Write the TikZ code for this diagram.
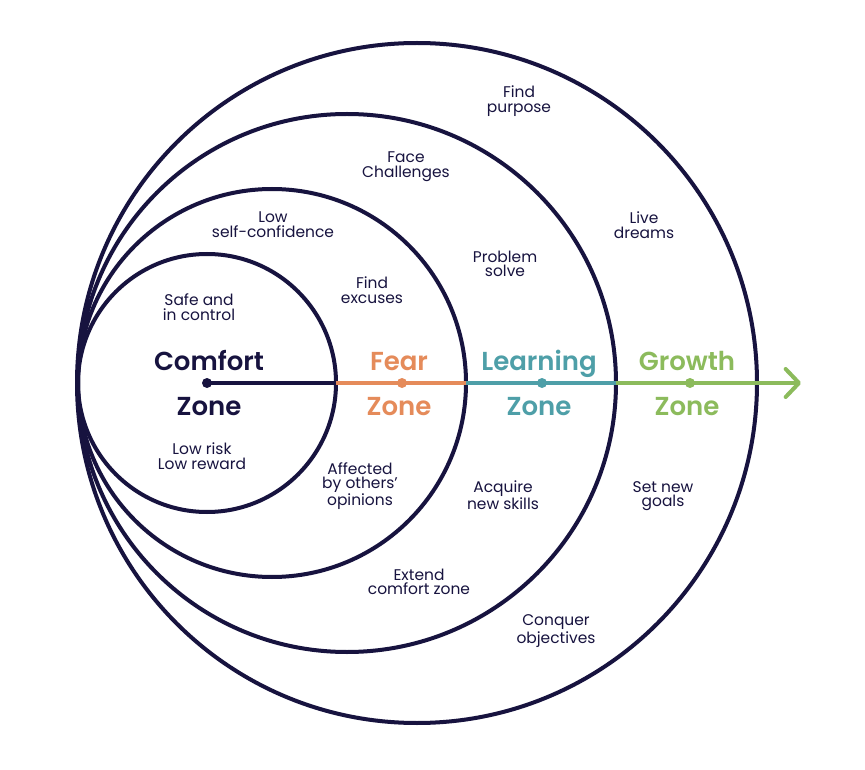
\documentclass[tikz,border=0pt]{standalone}
\usepackage{fontspec}
\setmainfont{Poppins}
\newfontfamily\zonefont{Poppins SemiBold}
\usetikzlibrary{arrows.meta}
\definecolor{navy}{HTML}{17133F}
\definecolor{fearc}{HTML}{E58B5A}
\definecolor{learnc}{HTML}{4E9FA8}
\definecolor{growc}{HTML}{8CBB5C}
\tikzset{
  ring/.style={draw=navy,line width=3pt},
  axis/.style={line width=3pt},
  dotmark/.style={circle,inner sep=0pt,minimum size=7.5pt},
  small/.style={text=navy,align=center,inner sep=0pt,font=\fontsize{11.6}{11}\selectfont},
  zonelabel/.style={anchor=base,inner sep=0pt,font=\fontsize{19.5}{20}\selectfont\zonefont},
}
\begin{document}
\begin{tikzpicture}[x=0.75pt,y=-0.75pt]
\useasboundingbox[fill=white] (0,0) rectangle (865,770);
% rings
\draw[ring] (207,383) circle[radius=129];
\draw[ring] (272,383) circle[radius=194];
\draw[ring] (347,383) circle[radius=269];
\draw[ring] (417,383) circle[radius=340];
% axis points
\coordinate (e1) at (336,383);
\coordinate (e2) at (466,383);
\coordinate (e3) at (616,383);
\coordinate (tip) at (801,383);
\node[dotmark,fill=navy] (d1) at (207,383) {};
\node[dotmark,fill=fearc] (d2) at (402,383) {};
\node[dotmark,fill=learnc] (d3) at (542,383) {};
\node[dotmark,fill=growc] (d4) at (690,383) {};
\draw[axis,navy] (d1.center) -- (e1);
\draw[axis,fearc] (e1) -- (e2);
\draw[axis,learnc] (e2) -- (e3);
\draw[axis,growc,-{Straight Barb[length=10pt,width=21pt,round]}] (e3) -- (tip);
% zone labels
\node[zonelabel,text=navy] (l1a) at (209,371) {Comfort};
\node[zonelabel,text=navy] (l1b) at (209,415) {Zone};
\node[zonelabel,text=fearc] (l2a) at (399,371) {Fear};
\node[zonelabel,text=fearc] (l2b) at (399,415) {Zone};
\node[zonelabel,text=learnc] (l3a) at (539,371) {Learning};
\node[zonelabel,text=learnc] (l3b) at (539,415) {Zone};
\node[zonelabel,text=growc] (l4a) at (687,371) {Growth};
\node[zonelabel,text=growc] (l4b) at (687,415) {Zone};
% small texts
\node[small] (t1) at (519,101) {Find\\purpose};
\node[small] (t2) at (406,167) {Face\\Challenges};
\node[small] (t3) at (644,225) {Live\\dreams};
\node[small] (t4) at (273,225) {Low\\self-confidence};
\node[small] (t5) at (505,264) {Problem\\solve};
\node[small] (t6) at (372,290) {Find\\excuses};
\node[small] (t7) at (199,307) {Safe and\\in control};
\node[small] (t8) at (202,456) {Low risk\\Low reward};
\node[small] (t9) at (360,486) {Affected\\by others’\\opinions};
\node[small] (t10) at (503,495) {Acquire\\new skills};
\node[small] (t11) at (663,496) {Set new\\goals};
\node[small] (t12) at (419,582) {Extend\\comfort zone};
\node[small] (t13) at (556,631) {Conquer\\objectives};
\end{tikzpicture}
\end{document}
